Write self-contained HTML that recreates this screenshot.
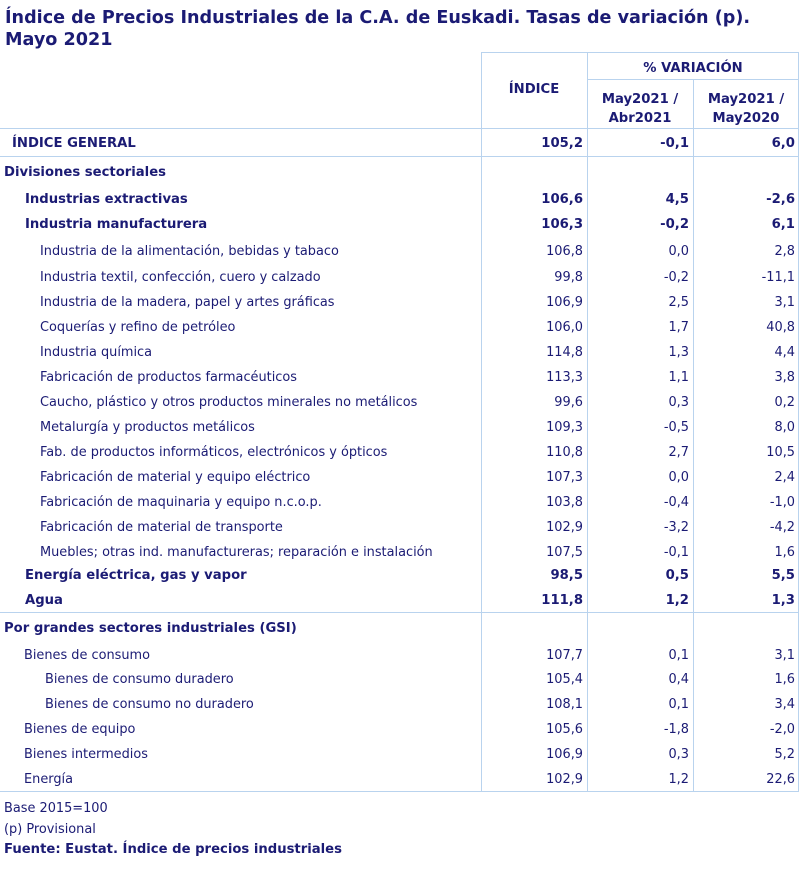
<!DOCTYPE html>
<html><head><meta charset="utf-8"><style>
body{margin:0;width:800px;height:876px;background:#fff;position:relative;font-family:"DejaVu Sans",Verdana,"Liberation Sans",sans-serif;color:#1b1b74;overflow:hidden}
div{position:absolute;white-space:nowrap}
.t{font-weight:bold;font-size:17.6px;left:5px;line-height:22px}
.l{font-size:12.9px;line-height:18px}
.b{font-weight:bold;font-size:13.2px}
.r{text-align:right}
.h{background:#b9d3ee}
</style></head><body>
<div class="t" style="top:7px">Índice de Precios Industriales de la C.A. de Euskadi. Tasas de variación (p).</div>
<div class="t" style="top:29px">Mayo 2021</div>

<div class="h" style="left:481px;top:52px;width:318px;height:1px"></div>
<div class="h" style="left:587px;top:79px;width:212px;height:1px"></div>
<div class="h" style="left:0;top:128px;width:799px;height:1px"></div>
<div class="h" style="left:0;top:156px;width:799px;height:1px"></div>
<div class="h" style="left:0;top:612px;width:799px;height:1px"></div>
<div class="h" style="left:0;top:791px;width:799px;height:1px"></div>
<div class="h" style="left:481px;top:52px;width:1px;height:740px"></div>
<div class="h" style="left:587px;top:52px;width:1px;height:740px"></div>
<div class="h" style="left:693px;top:79px;width:1px;height:713px"></div>
<div class="h" style="left:798px;top:52px;width:1px;height:740px"></div>

<div class="l b" style="left:481px;width:106px;text-align:center;top:81px">ÍNDICE</div>
<div class="l b" style="left:587px;width:212px;text-align:center;top:60px">% VARIACIÓN</div>
<div class="l b" style="left:587px;width:106px;text-align:center;top:91px">May2021 /</div>
<div class="l b" style="left:587px;width:106px;text-align:center;top:110px">Abr2021</div>
<div class="l b" style="left:693px;width:106px;text-align:center;top:91px">May2021 /</div>
<div class="l b" style="left:693px;width:106px;text-align:center;top:110px">May2020</div>

<div id="rows"></div>
<div class="l" style="left:4px;top:800px">Base 2015=100</div>
<div class="l" style="left:4px;top:821px">(p) Provisional</div>
<div class="l b" style="left:4px;top:841px">Fuente: Eustat. Índice de precios industriales</div>
<script>
var R=[
[143,12,1,"ÍNDICE GENERAL","105,2","-0,1","6,0"],
[172,4,1,"Divisiones sectoriales"],
[199,25,1,"Industrias extractivas","106,6","4,5","-2,6"],
[224,25,1,"Industria manufacturera","106,3","-0,2","6,1"],
[251,40,0,"Industria de la alimentación, bebidas y tabaco","106,8","0,0","2,8"],
[277,40,0,"Industria textil, confección, cuero y calzado","99,8","-0,2","-11,1"],
[302,40,0,"Industria de la madera, papel y artes gráficas","106,9","2,5","3,1"],
[327,40,0,"Coquerías y refino de petróleo","106,0","1,7","40,8"],
[352,40,0,"Industria química","114,8","1,3","4,4"],
[377,40,0,"Fabricación de productos farmacéuticos","113,3","1,1","3,8"],
[402,40,0,"Caucho, plástico y otros productos minerales no metálicos","99,6","0,3","0,2"],
[427,40,0,"Metalurgía y productos metálicos","109,3","-0,5","8,0"],
[452,40,0,"Fab. de productos informáticos, electrónicos y ópticos","110,8","2,7","10,5"],
[477,40,0,"Fabricación de material y equipo eléctrico","107,3","0,0","2,4"],
[502,40,0,"Fabricación de maquinaria y equipo n.c.o.p.","103,8","-0,4","-1,0"],
[527,40,0,"Fabricación de material de transporte","102,9","-3,2","-4,2"],
[552,40,0,"Muebles; otras ind. manufactureras; reparación e instalación","107,5","-0,1","1,6"],
[575,25,1,"Energía eléctrica, gas y vapor","98,5","0,5","5,5"],
[600,25,1,"Agua","111,8","1,2","1,3"],
[628,4,1,"Por grandes sectores industriales (GSI)"],
[655,24,0,"Bienes de consumo","107,7","0,1","3,1"],
[679,45,0,"Bienes de consumo duradero","105,4","0,4","1,6"],
[704,45,0,"Bienes de consumo no duradero","108,1","0,1","3,4"],
[729,24,0,"Bienes de equipo","105,6","-1,8","-2,0"],
[754,24,0,"Bienes intermedios","106,9","0,3","5,2"],
[779,24,0,"Energía","102,9","1,2","22,6"]];
var h="";
R.forEach(function(r){var c="l"+(r[2]?" b":"");var t=r[0]-8;
h+='<div class="'+c+'" style="left:'+r[1]+'px;top:'+t+'px">'+r[3]+'</div>';
if(r[4]){[[583,r[4]],[689,r[5]],[795,r[6]]].forEach(function(v){h+='<div class="'+c+' r" style="right:'+(800-v[0])+'px;top:'+t+'px">'+v[1]+'</div>';});}
});
document.getElementById("rows").outerHTML=h;
</script>
</body></html>
